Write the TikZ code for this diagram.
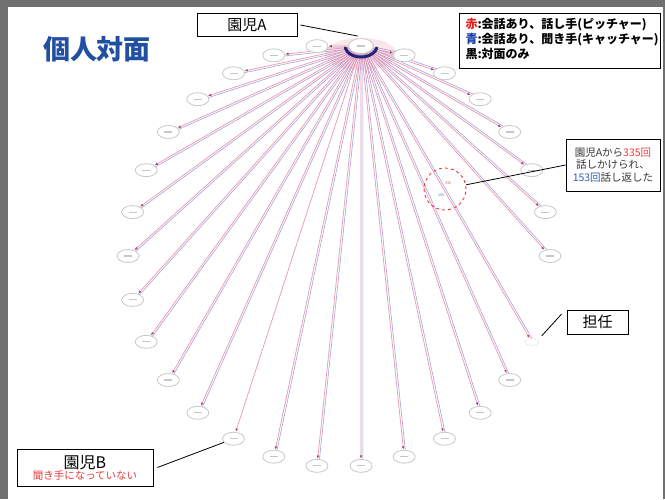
\documentclass[tikz,border=0pt]{standalone}
\usepackage{fontspec}
\setmainfont{Noto Sans CJK JP}
\usetikzlibrary{calc,arrows.meta,shapes.geometric,backgrounds}
\definecolor{framegray}{RGB}{112,112,112}
\definecolor{titleblue}{RGB}{33,80,160}
\definecolor{edgered}{RGB}{236,150,175}
\definecolor{edgeblue}{RGB}{165,160,220}
\definecolor{tipred}{RGB}{170,70,105}
\definecolor{navyA}{RGB}{30,35,125}
\definecolor{nodegray}{RGB}{200,200,200}
\definecolor{annred}{RGB}{235,60,60}
\definecolor{annblue}{RGB}{45,95,180}
\definecolor{anntext}{RGB}{55,55,55}
\definecolor{legred}{RGB}{230,30,30}
\definecolor{legblue}{RGB}{25,60,170}
\tikzset{
  person/.style={ellipse, draw=nodegray, line width=0.8pt, fill=white,
    minimum width=22pt, minimum height=13pt, inner sep=0pt,
    path picture={\draw[gray!45, line width=1.1pt]
      ([xshift=-4pt]path picture bounding box.center) --
      ([xshift=4pt]path picture bounding box.center);}},
  teacher/.style={ellipse, draw=gray!25, line width=0.4pt, fill=white,
    minimum width=14pt, minimum height=7pt, inner sep=0pt},
  redE/.style={draw=edgered, line width=0.7pt,
    -{Latex[length=3.5pt,width=2.6pt,color=tipred]}},
  blueE/.style={draw=edgeblue, line width=0.6pt},
  callbox/.style={draw=black, line width=0.8pt, fill=white, inner sep=0pt},
  callline/.style={draw=black, line width=0.8pt},
}
\begin{document}
\begin{tikzpicture}[x=1pt,y=-1pt]
\useasboundingbox (0,0) rectangle (665,499);
% nodes
\node[person, minimum width=25pt, minimum height=15pt] (A) at (361,46) {};
\foreach \i/\a in {1/96,2/108,3/120,4/132,5/144,6/156,7/168,8/180,9/192,10/204,
  11/216,12/228,13/240,14/252,15/264,16/276,17/288,18/300,19/312,20/324,
  22/0,23/12,24/24,25/36,26/48,27/60,28/72}
  \node[person] (n\i) at ({339+211*cos(\a)},{256-211*sin(\a)}) {};
\node[teacher] (n21) at ({339+211*cos(336)},{256-211*sin(336)}) {};
% crescent under A
\draw[navyA, line width=3pt, line cap=round] (A.center) ++(190:16pt and 11pt)
  arc[start angle=190, end angle=350, x radius=16pt, y radius=11pt];
% edges
\begin{scope}[on background layer]
  \fill[white] (0,0) rectangle (665,499);
  \fill[violet!35!red, opacity=0.10] (361,54) ellipse[x radius=36pt, y radius=16pt];
  \foreach \i in {1,...,28} {
    \ifnum\i=13\relax\else
      \draw[blueE] ($(A.center)!1.8pt!90:(n\i.center)$) -- ($(n\i.center)!1.8pt!-90:(A.center)$);
    \fi
    \draw[redE] (A) -- (n\i);
  }
\end{scope}
% focus circle and tiny labels
\node[font=\fontsize{3.5}{4}\selectfont, text=annred] (l335) at (448,183) {335};
\node[font=\fontsize{3.5}{4}\selectfont, text=annblue] (l153) at (441,195) {153};
\node[circle, draw=annred, dashed, line width=0.9pt, minimum size=42pt, inner sep=0pt] (focus) at (445,189) {};
% title
\node[font=\fontsize{27}{30}\selectfont\bfseries, text=titleblue] (title) at (97,49) {個人対面};
% legend
\node[callbox, minimum width=201pt, minimum height=55pt] (legend) at (559.5,40.5) {};
\node[anchor=west, font=\fontsize{12}{14}\selectfont\bfseries] (lg1) at (462,25) {{\color{legred}赤}:会話あり、話し手(ピッチャー)};
\node[anchor=west, font=\fontsize{12}{14}\selectfont\bfseries] (lg2) at (462,40) {{\color{legblue}青}:会話あり、聞き手(キャッチャー)};
\node[anchor=west, font=\fontsize{12}{14}\selectfont\bfseries] (lg3) at (462,54) {黒:対面のみ};
% callout A
\node[callbox, minimum width=100pt, minimum height=23pt, font=\fontsize{15}{17}\selectfont] (boxA) at (247,25) {園児A};
\draw[callline] ([xshift=3pt]boxA.east) -- ([xshift=-3pt,yshift=2pt]A.north);
% callout annotation
\node[callbox, minimum width=94pt, minimum height=52pt, align=center,
  font=\fontsize{10.5}{12.8}\selectfont, text=anntext] (note) at (613,165)
  {園児Aから{\color{annred}335回}\\話しかけられ、\\{\color{annblue}153回}話し返した};
\draw[callline] (note.west) -- (focus);
% callout teacher
\node[callbox, minimum width=61pt, minimum height=24pt, font=\fontsize{15}{17}\selectfont] (boxT) at (597.5,322) {担任};
\draw[callline] ($(boxT.west)+(-5,-8)$) -- ($(n21)+(10,-6)$);
% callout B
\node[callbox, minimum width=136pt, minimum height=37pt, align=center] (boxB) at (85,467.5)
  {{\fontsize{16}{14}\selectfont 園児B}\\[-1pt]{\fontsize{10.5}{12}\selectfont\color{annred}聞き手になっていない}};
\draw[callline] ([xshift=4pt]boxB.east) -- (n13);
% frame
\fill[framegray] (0,0) rectangle (665,7);
\fill[framegray] (0,0) rectangle (8,499);
\fill[framegray] (663,0) rectangle (665,499);
\end{tikzpicture}
\end{document}
